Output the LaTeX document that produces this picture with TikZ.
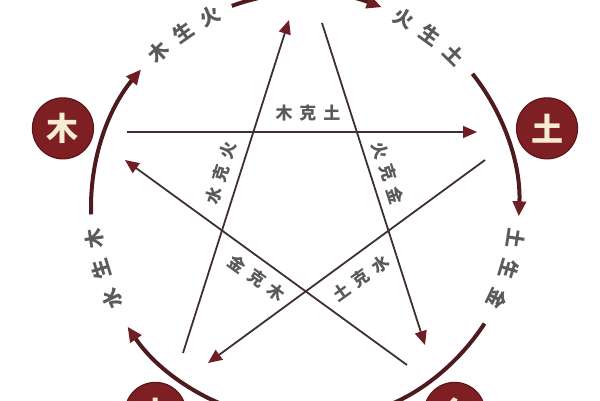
\documentclass[tikz,border=0pt]{standalone}
\usepackage{fontspec}
\newfontfamily\cjk{Noto Sans CJK SC}
\usetikzlibrary{arrows.meta}
\definecolor{badgefill}{HTML}{7D1F23}
\definecolor{badgeedge}{HTML}{5E1518}
\definecolor{badgetext}{HTML}{F6ECD2}
\definecolor{arccol}{HTML}{4D1A1D}
\definecolor{arrowcol}{HTML}{6E1E24}
\definecolor{linecol}{HTML}{3F2F30}
\definecolor{labelcol}{HTML}{5A5A5A}
\newcommand\kgap{\hspace{7pt}}
\begin{document}
\begin{tikzpicture}[x=1pt,y=1pt,
  badgestyle/.style={circle,fill=badgefill,draw=badgeedge,line width=1.2pt,minimum size=61pt,inner sep=0pt,text=badgetext,font=\cjk\bfseries\fontsize{32}{32}\selectfont},
  arcline/.style={draw=arccol,line width=4pt,-{Triangle[length=15pt,width=13pt,color=arrowcol]}},
  arclabel/.style={text=labelcol,font=\cjk\bfseries\fontsize{20}{20}\selectfont,inner sep=0pt},
  keline/.style={draw=linecol,line width=1.8pt,-{Triangle[length=14pt,width=12pt,color=arrowcol]}},
  kelabel/.style={text=labelcol,font=\cjk\bfseries\fontsize{17}{17}\selectfont,inner sep=0pt}
]
\useasboundingbox (0,0) rectangle (600,400);
\clip (0,0) rectangle (600,400);
\fill[white] (0,0) rectangle (600,400);
\coordinate (C) at (305,193);

% element badges
\node[badgestyle] (mu) at ([shift={(162:254.5)}]C) {木};
\node[badgestyle] (tu) at ([shift={(18:254.5)}]C) {土};
\node[badgestyle] (jin) at ([shift={(306:254.5)}]C) {金};
\node[badgestyle] (shui) at ([shift={(234:254.5)}]C) {水};

% generating cycle arcs
\draw[arcline] ([shift={(182:214)}]C) arc[start angle=182,end angle=140,radius=214];
\draw[arcline] ([shift={(110:214)}]C) arc[start angle=110,end angle=69,radius=214];
\draw[arcline] ([shift={(38.5:214)}]C) arc[start angle=38.5,end angle=-2.5,radius=214];
\draw[arcline] ([shift={(-33:214)}]C) arc[start angle=-33,end angle=-74,radius=214];
\draw[arcline] ([shift={(254:214)}]C) arc[start angle=254,end angle=214,radius=214];

% generating cycle labels
\foreach \c/\p/\q/\r/\n in {125/木/生/火/a, 54/火/生/土/b, -17/土/生/金/c, 197/水/生/木/d} {
  \pgfmathsetmacro\aone{\c+8.5}
  \pgfmathsetmacro\athree{\c-8.5}
  \node[arclabel,rotate=\aone-90] (\n1) at ([shift={(\aone:213)}]C) {\p};
  \node[arclabel,rotate=\c-90] (\n2) at ([shift={(\c:213)}]C) {\q};
  \node[arclabel,rotate=\athree-90] (\n3) at ([shift={(\athree:213)}]C) {\r};
}

% controlling cycle (pentagram)
\coordinate (muS) at (127,268);   \coordinate (tuE) at (477,268);
\coordinate (tuS) at (485,240);   \coordinate (shuiE) at (208,37);
\coordinate (shuiS) at (183,47);  \coordinate (huoE) at (289,380);
\coordinate (huoS) at (322,377);  \coordinate (jinE) at (425,55);
\coordinate (jinS) at (407,35);   \coordinate (muE) at (125,240);
\draw[keline] (muS) -- (tuE);
\draw[keline] (tuS) -- (shuiE);
\draw[keline] (shuiS) -- (huoE);
\draw[keline] (huoS) -- (jinE);
\draw[keline] (jinS) -- (muE);

\node[kelabel] (k1) at (308,287) {木\kgap 克\kgap 土};
\node[kelabel,rotate=-72.3] (k2) at (388,227) {火\kgap 克\kgap 金};
\node[kelabel,rotate=72.3] (k3) at (221,227) {水\kgap 克\kgap 火};
\node[kelabel,rotate=-36] (k4) at (257,122) {金\kgap 克\kgap 木};
\node[kelabel,rotate=36] (k5) at (361,122) {土\kgap 克\kgap 水};
\end{tikzpicture}
\end{document}
